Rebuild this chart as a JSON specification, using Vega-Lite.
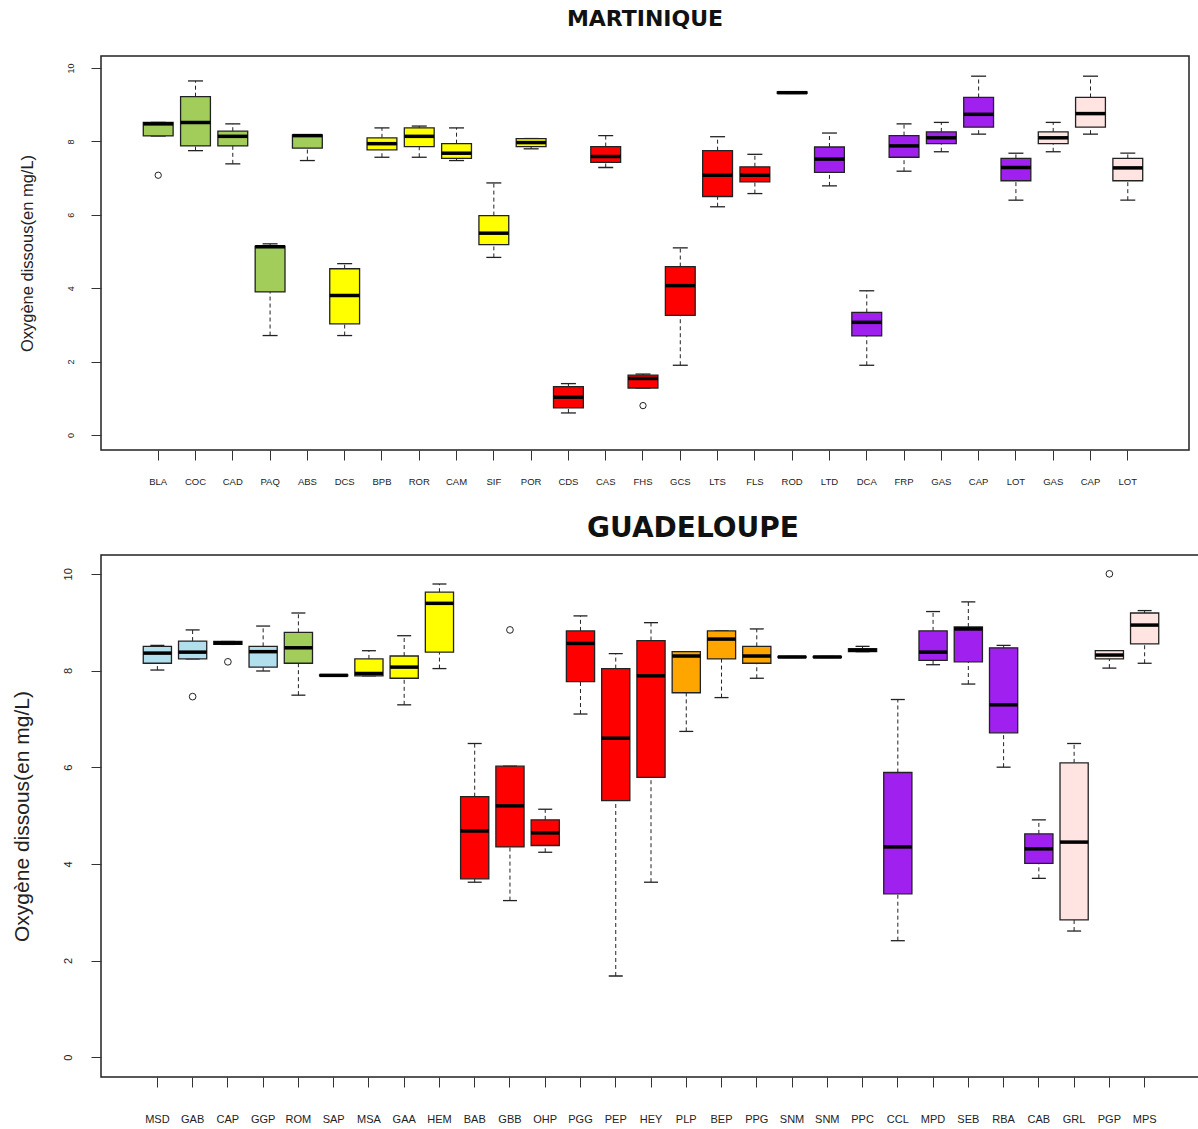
{
  "$schema": "https://vega.github.io/schema/vega-lite/v6.json",
  "padding": {"left": 10, "top": 7, "right": 0, "bottom": 0},
  "background": "white",
  "spacing": 27,
  "config": {
    "view": {"stroke": "#222", "strokeWidth": 1.5},
    "axis": {"grid": false, "labelColor": "#222", "tickColor": "#333", "domain": false, "labelFont": "Liberation Sans", "titleFont": "Liberation Sans", "titleFontWeight": "normal", "titleColor": "#222"},
    "title": {"font": "DejaVu Sans", "fontWeight": "bold", "color": "#111", "anchor": "middle"}
  },
  "resolve": {"scale": {"color": "shared"}},
  "vconcat": [
    {
      "title": {"text": "MARTINIQUE", "fontSize": 22, "offset": 25},
      "width": 1088,
      "height": 394,
      "data": {"values": [
        {"site": "BLA", "groupe": "B", "lo": 8.15, "q1": 8.15, "med": 8.48, "q3": 8.52, "hi": 8.52, "outlier": 7.08},
        {"site": "COC", "groupe": "B", "lo": 7.75, "q1": 7.88, "med": 8.52, "q3": 9.22, "hi": 9.65, "outlier": null},
        {"site": "CAD", "groupe": "B", "lo": 7.39, "q1": 7.88, "med": 8.14, "q3": 8.28, "hi": 8.48, "outlier": null},
        {"site": "PAQ", "groupe": "B", "lo": 2.71, "q1": 3.90, "med": 5.13, "q3": 5.15, "hi": 5.21, "outlier": null},
        {"site": "ABS", "groupe": "B", "lo": 7.48, "q1": 7.82, "med": 8.16, "q3": 8.18, "hi": 8.18, "outlier": null},
        {"site": "DCS", "groupe": "C", "lo": 2.71, "q1": 3.03, "med": 3.80, "q3": 4.53, "hi": 4.67, "outlier": null},
        {"site": "BPB", "groupe": "C", "lo": 7.57, "q1": 7.77, "med": 7.94, "q3": 8.10, "hi": 8.37, "outlier": null},
        {"site": "ROR", "groupe": "C", "lo": 7.57, "q1": 7.86, "med": 8.14, "q3": 8.37, "hi": 8.42, "outlier": null},
        {"site": "CAM", "groupe": "C", "lo": 7.48, "q1": 7.54, "med": 7.68, "q3": 7.94, "hi": 8.37, "outlier": null},
        {"site": "SIF", "groupe": "C", "lo": 4.84, "q1": 5.19, "med": 5.50, "q3": 5.98, "hi": 6.87, "outlier": null},
        {"site": "POR", "groupe": "C", "lo": 7.80, "q1": 7.86, "med": 7.97, "q3": 8.08, "hi": 8.08, "outlier": null},
        {"site": "CDS", "groupe": "D", "lo": 0.60, "q1": 0.74, "med": 1.03, "q3": 1.32, "hi": 1.40, "outlier": null},
        {"site": "CAS", "groupe": "D", "lo": 7.29, "q1": 7.43, "med": 7.59, "q3": 7.86, "hi": 8.16, "outlier": null},
        {"site": "FHS", "groupe": "D", "lo": 1.28, "q1": 1.28, "med": 1.54, "q3": 1.63, "hi": 1.66, "outlier": 0.80},
        {"site": "GCS", "groupe": "D", "lo": 1.90, "q1": 3.26, "med": 4.07, "q3": 4.59, "hi": 5.10, "outlier": null},
        {"site": "LTS", "groupe": "D", "lo": 6.22, "q1": 6.50, "med": 7.08, "q3": 7.75, "hi": 8.13, "outlier": null},
        {"site": "FLS", "groupe": "D", "lo": 6.58, "q1": 6.90, "med": 7.08, "q3": 7.31, "hi": 7.65, "outlier": null},
        {"site": "ROD", "groupe": "D", "lo": 9.31, "q1": 9.31, "med": 9.33, "q3": 9.35, "hi": 9.35, "outlier": null},
        {"site": "LTD", "groupe": "F", "lo": 6.79, "q1": 7.16, "med": 7.52, "q3": 7.85, "hi": 8.23, "outlier": null},
        {"site": "DCA", "groupe": "F", "lo": 1.90, "q1": 2.70, "med": 3.07, "q3": 3.34, "hi": 3.93, "outlier": null},
        {"site": "FRP", "groupe": "F", "lo": 7.19, "q1": 7.57, "med": 7.88, "q3": 8.16, "hi": 8.48, "outlier": null},
        {"site": "GAS", "groupe": "F", "lo": 7.72, "q1": 7.94, "med": 8.10, "q3": 8.26, "hi": 8.52, "outlier": null},
        {"site": "CAP", "groupe": "F", "lo": 8.20, "q1": 8.39, "med": 8.74, "q3": 9.20, "hi": 9.78, "outlier": null},
        {"site": "LOT", "groupe": "F", "lo": 6.40, "q1": 6.93, "med": 7.29, "q3": 7.54, "hi": 7.68, "outlier": null},
        {"site": "GAS2", "groupe": "G", "lo": 7.72, "q1": 7.94, "med": 8.10, "q3": 8.26, "hi": 8.52, "outlier": null},
        {"site": "CAP2", "groupe": "G", "lo": 8.20, "q1": 8.39, "med": 8.76, "q3": 9.20, "hi": 9.78, "outlier": null},
        {"site": "LOT2", "groupe": "G", "lo": 6.40, "q1": 6.93, "med": 7.28, "q3": 7.54, "hi": 7.68, "outlier": null}
      ]},
      "encoding": {
        "x": {"field": "site", "type": "nominal", "sort": null,
          "scale": {"type": "band", "paddingInner": 0.2, "paddingOuter": 1, "range": [5, 1079]},
          "axis": {"title": null, "labelAngle": 0, "labelFontSize": 9.5, "tickSize": 10, "labelPadding": 16, "labelExpr": "slice(datum.value, 0, 3)", "labelOverlap": false, "labelFlush": false}}
      },
      "layer": [
        {"mark": {"type": "rule", "strokeDash": [4, 3], "color": "#222", "strokeWidth": 1},
         "encoding": {"y": {"field": "lo", "type": "quantitative", "title": "Oxygène dissous(en mg/L)",
            "scale": {"domain": [-0.41, 10.33], "nice": false, "zero": false},
            "axis": {"values": [0, 2, 4, 6, 8, 10], "labelAngle": -90, "labelFontSize": 9, "tickSize": 10, "labelPadding": 16, "titleFontSize": 16.5, "titlePadding": 31}},
           "y2": {"field": "q1"}}},
        {"mark": {"type": "rule", "strokeDash": [4, 3], "color": "#222", "strokeWidth": 1},
         "encoding": {"y": {"field": "q3", "type": "quantitative", "title": "Oxygène dissous(en mg/L)"}, "y2": {"field": "hi"}}},
        {"mark": {"type": "tick", "size": 15, "thickness": 1.3, "color": "#222", "opacity": 1},
         "encoding": {"y": {"field": "lo", "type": "quantitative", "title": "Oxygène dissous(en mg/L)"}}},
        {"mark": {"type": "tick", "size": 15, "thickness": 1.3, "color": "#222", "opacity": 1},
         "encoding": {"y": {"field": "hi", "type": "quantitative", "title": "Oxygène dissous(en mg/L)"}}},
        {"mark": {"type": "bar", "stroke": "#222", "strokeWidth": 1.3, "opacity": 1},
         "encoding": {"y": {"field": "q1", "type": "quantitative", "title": "Oxygène dissous(en mg/L)"}, "y2": {"field": "q3"},
           "color": {"field": "groupe", "type": "nominal", "legend": null,
             "scale": {"domain": ["A", "B", "C", "D", "E", "F", "G"], "range": ["#B2DFEE", "#A2CD5A", "#FFFF00", "#FF0000", "#FFA500", "#A020F0", "#FFE4E1"]}}}},
        {"mark": {"type": "tick", "size": 29.8, "thickness": 3.5, "color": "#000", "opacity": 1},
         "encoding": {"y": {"field": "med", "type": "quantitative", "title": "Oxygène dissous(en mg/L)"}}},
        {"transform": [{"filter": "isValid(datum.outlier)"}],
         "mark": {"type": "point", "shape": "circle", "filled": false, "size": 40, "stroke": "#222", "strokeWidth": 1, "opacity": 1},
         "encoding": {"y": {"field": "outlier", "type": "quantitative", "title": "Oxygène dissous(en mg/L)"}}}
      ]
    },
    {
      "title": {"text": "GUADELOUPE", "fontSize": 28, "offset": 12, "dx": 43},
      "width": 1098,
      "height": 522,
      "data": {"values": [
        {"site": "MSD", "groupe": "A", "lo": 8.01, "q1": 8.15, "med": 8.36, "q3": 8.50, "hi": 8.52, "outlier": null},
        {"site": "GAB", "groupe": "A", "lo": 8.24, "q1": 8.24, "med": 8.38, "q3": 8.61, "hi": 8.84, "outlier": 7.46},
        {"site": "CAP", "groupe": "A", "lo": 8.54, "q1": 8.54, "med": 8.57, "q3": 8.60, "hi": 8.60, "outlier": 8.18},
        {"site": "GGP", "groupe": "A", "lo": 7.99, "q1": 8.07, "med": 8.39, "q3": 8.50, "hi": 8.92, "outlier": null},
        {"site": "ROM", "groupe": "B", "lo": 7.49, "q1": 8.15, "med": 8.47, "q3": 8.79, "hi": 9.19, "outlier": null},
        {"site": "SAP", "groupe": "C", "lo": 7.89, "q1": 7.89, "med": 7.90, "q3": 7.91, "hi": 7.91, "outlier": null},
        {"site": "MSA", "groupe": "C", "lo": 7.89, "q1": 7.89, "med": 7.94, "q3": 8.24, "hi": 8.41, "outlier": null},
        {"site": "GAA", "groupe": "C", "lo": 7.29, "q1": 7.84, "med": 8.07, "q3": 8.30, "hi": 8.72, "outlier": null},
        {"site": "HEM", "groupe": "C", "lo": 8.04, "q1": 8.38, "med": 9.39, "q3": 9.62, "hi": 9.79, "outlier": null},
        {"site": "BAB", "groupe": "D", "lo": 3.62, "q1": 3.69, "med": 4.68, "q3": 5.39, "hi": 6.49, "outlier": null},
        {"site": "GBB", "groupe": "D", "lo": 3.24, "q1": 4.35, "med": 5.20, "q3": 6.02, "hi": 6.02, "outlier": 8.84},
        {"site": "OHP", "groupe": "D", "lo": 4.24, "q1": 4.38, "med": 4.64, "q3": 4.91, "hi": 5.13, "outlier": null},
        {"site": "PGG", "groupe": "D", "lo": 7.10, "q1": 7.77, "med": 8.56, "q3": 8.82, "hi": 9.13, "outlier": null},
        {"site": "PEP", "groupe": "D", "lo": 1.68, "q1": 5.31, "med": 6.60, "q3": 8.04, "hi": 8.35, "outlier": null},
        {"site": "HEY", "groupe": "D", "lo": 3.62, "q1": 5.79, "med": 7.89, "q3": 8.62, "hi": 8.99, "outlier": null},
        {"site": "PLP", "groupe": "E", "lo": 6.74, "q1": 7.54, "med": 8.30, "q3": 8.39, "hi": 8.39, "outlier": null},
        {"site": "BEP", "groupe": "E", "lo": 7.44, "q1": 8.24, "med": 8.65, "q3": 8.82, "hi": 8.82, "outlier": null},
        {"site": "PPG", "groupe": "E", "lo": 7.84, "q1": 8.15, "med": 8.30, "q3": 8.50, "hi": 8.86, "outlier": null},
        {"site": "SNM", "groupe": "E", "lo": 8.27, "q1": 8.27, "med": 8.28, "q3": 8.29, "hi": 8.29, "outlier": null},
        {"site": "SNM2", "groupe": "E", "lo": 8.27, "q1": 8.27, "med": 8.28, "q3": 8.29, "hi": 8.29, "outlier": null},
        {"site": "PPC", "groupe": "E", "lo": 8.39, "q1": 8.39, "med": 8.42, "q3": 8.45, "hi": 8.50, "outlier": null},
        {"site": "CCL", "groupe": "F", "lo": 2.41, "q1": 3.38, "med": 4.35, "q3": 5.89, "hi": 7.40, "outlier": null},
        {"site": "MPD", "groupe": "F", "lo": 8.12, "q1": 8.21, "med": 8.38, "q3": 8.82, "hi": 9.22, "outlier": null},
        {"site": "SEB", "groupe": "F", "lo": 7.72, "q1": 8.18, "med": 8.86, "q3": 8.90, "hi": 9.42, "outlier": null},
        {"site": "RBA", "groupe": "F", "lo": 6.00, "q1": 6.71, "med": 7.29, "q3": 8.47, "hi": 8.52, "outlier": null},
        {"site": "CAB", "groupe": "F", "lo": 3.70, "q1": 4.01, "med": 4.31, "q3": 4.62, "hi": 4.91, "outlier": null},
        {"site": "GRL", "groupe": "G", "lo": 2.61, "q1": 2.84, "med": 4.45, "q3": 6.09, "hi": 6.49, "outlier": null},
        {"site": "PGP", "groupe": "G", "lo": 8.05, "q1": 8.24, "med": 8.32, "q3": 8.41, "hi": 8.41, "outlier": 10.0},
        {"site": "MPS", "groupe": "G", "lo": 8.15, "q1": 8.55, "med": 8.94, "q3": 9.19, "hi": 9.24, "outlier": null}
      ]},
      "encoding": {
        "x": {"field": "site", "type": "nominal", "sort": null,
          "scale": {"type": "band", "paddingInner": 0.2, "paddingOuter": 1, "range": [7, 1093]},
          "axis": {"title": null, "labelAngle": 0, "labelFontSize": 11, "tickSize": 10, "labelPadding": 26, "labelExpr": "slice(datum.value, 0, 3)", "labelOverlap": false, "labelFlush": false}}
      },
      "layer": [
        {"mark": {"type": "rule", "strokeDash": [4, 3], "color": "#222", "strokeWidth": 1},
         "encoding": {"y": {"field": "lo", "type": "quantitative", "title": "Oxygène dissous(en mg/L)",
            "scale": {"domain": [-0.41, 10.39], "nice": false, "zero": false},
            "axis": {"values": [0, 2, 4, 6, 8, 10], "labelAngle": -90, "labelFontSize": 11, "tickSize": 10, "labelPadding": 18, "titleFontSize": 21, "titlePadding": 30}},
           "y2": {"field": "q1"}}},
        {"mark": {"type": "rule", "strokeDash": [4, 3], "color": "#222", "strokeWidth": 1},
         "encoding": {"y": {"field": "q3", "type": "quantitative", "title": "Oxygène dissous(en mg/L)"}, "y2": {"field": "hi"}}},
        {"mark": {"type": "tick", "size": 14, "thickness": 1.3, "color": "#222", "opacity": 1},
         "encoding": {"y": {"field": "lo", "type": "quantitative", "title": "Oxygène dissous(en mg/L)"}}},
        {"mark": {"type": "tick", "size": 14, "thickness": 1.3, "color": "#222", "opacity": 1},
         "encoding": {"y": {"field": "hi", "type": "quantitative", "title": "Oxygène dissous(en mg/L)"}}},
        {"mark": {"type": "bar", "stroke": "#222", "strokeWidth": 1.3, "opacity": 1},
         "encoding": {"y": {"field": "q1", "type": "quantitative", "title": "Oxygène dissous(en mg/L)"}, "y2": {"field": "q3"},
           "color": {"field": "groupe", "type": "nominal", "legend": null,
             "scale": {"domain": ["A", "B", "C", "D", "E", "F", "G"], "range": ["#B2DFEE", "#A2CD5A", "#FFFF00", "#FF0000", "#FFA500", "#A020F0", "#FFE4E1"]}}}},
        {"mark": {"type": "tick", "size": 28.2, "thickness": 3.5, "color": "#000", "opacity": 1},
         "encoding": {"y": {"field": "med", "type": "quantitative", "title": "Oxygène dissous(en mg/L)"}}},
        {"transform": [{"filter": "isValid(datum.outlier)"}],
         "mark": {"type": "point", "shape": "circle", "filled": false, "size": 45, "stroke": "#222", "strokeWidth": 1, "opacity": 1},
         "encoding": {"y": {"field": "outlier", "type": "quantitative", "title": "Oxygène dissous(en mg/L)"}}}
      ]
    }
  ]
}
